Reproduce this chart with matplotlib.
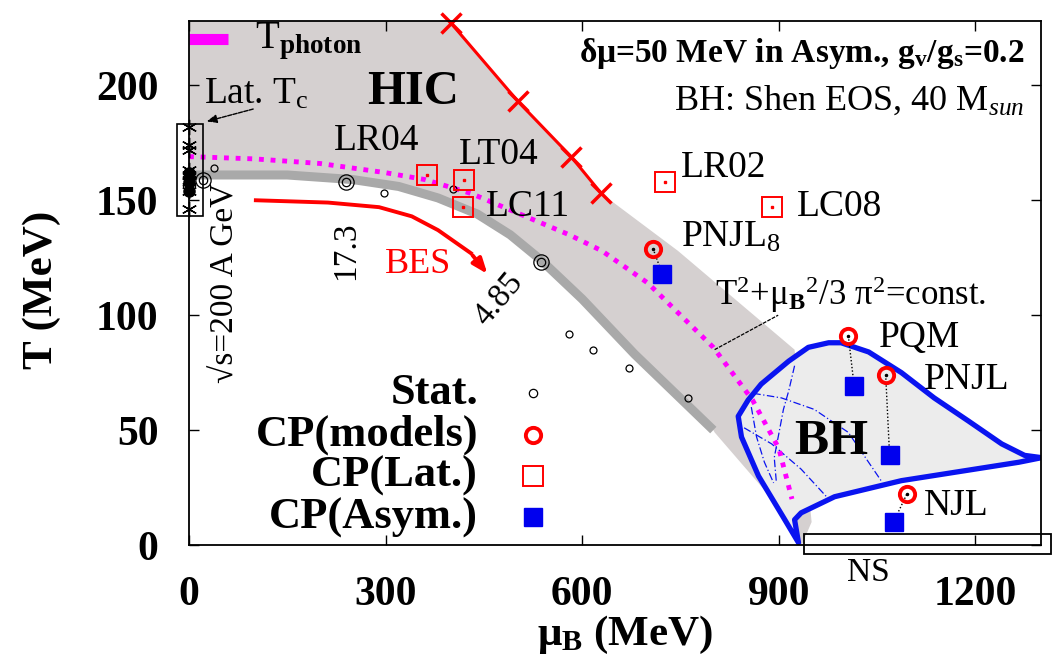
import matplotlib
matplotlib.use('Agg')
import matplotlib.pyplot as plt
from matplotlib.patches import Polygon, Rectangle

plt.rcParams['font.family'] = 'Liberation Serif'
plt.rcParams['mathtext.fontset'] = 'custom'
plt.rcParams['mathtext.rm'] = 'Liberation Serif'
plt.rcParams['mathtext.it'] = 'Liberation Serif:italic'
plt.rcParams['mathtext.bf'] = 'Liberation Serif:bold'

# ---- data (mu_B in MeV, T in MeV) ----
cross_mu = [400, 502, 583, 629]
cross_T = [227, 193, 169, 153]

# HIC region: upper / right boundary
hic_mu = [0, 400, 502, 583, 629, 746, 924, 950, 935, 914, 802]
hic_T = [228, 228, 193, 169, 153, 128, 85, 10, 0, 12, 49]

# freeze-out band (thick gray)
fo_mu = [0, 150, 250, 320, 380, 440, 490, 537, 600, 680, 800]
fo_T = [161, 161, 159, 156, 151, 144, 135, 124, 107, 83, 50]

# T^2 + mu^2/3pi^2 = const line
mg_mu = [0, 100, 200, 300, 360, 430, 480, 530, 580, 630, 700, 800, 860, 900, 920]
mg_T = [169, 168, 166, 162, 159, 153, 147, 141, 135, 128, 114, 86, 63, 42, 20]

# BES arrow
bes_mu = [102, 212, 290, 340, 380, 430]
bes_T = [150, 149, 147, 143, 137, 127]
bes_tip = (458, 117)

# statistical model points
stat_mu = [38, 298, 403, 580, 617, 672, 762]
stat_T = [164, 153, 155, 92, 85, 77, 64]
stat_big_mu = [21, 240, 537]
stat_big_T = [159, 158, 123]

# lattice Tc points
latc_T = [182, 174, 172, 163, 161, 159, 158, 154, 146]
latc_fill_T = [162, 158, 154]

# critical points
lat_names = ['LR04', 'LT04', 'LC11', 'LR02', 'LC08']
lat_mu = [363, 420, 418, 727, 889]
lat_T = [161, 159, 147, 158, 147]

mod_names = [r'PNJL$_8$', 'PQM', 'PNJL', 'NJL']
mod_mu = [708, 1006, 1063, 1095]
mod_T = [129, 91, 74, 22]
asym_mu = [722, 1015, 1069, 1075]
asym_T = [118, 69, 39, 10]

# black hole formation region
bh_mu = [930, 907, 869, 843, 838, 853, 873, 915, 945, 976, 995, 1037, 1087, 1137,
         1189, 1240, 1275, 1301, 1266, 1087, 985, 934, 924]
bh_T = [1, 12, 30, 47, 56, 63, 70, 80, 86, 88, 88, 84, 75, 64,
        54, 44, 39, 38, 36, 28, 21, 14, 11]

bh_tr1_mu = [924, 915, 907, 899, 893, 896]
bh_tr1_T = [78, 67, 59, 47, 38, 28]
bh_tr2_mu = [861, 904, 954, 1006, 1056]
bh_tr2_T = [66, 64, 59, 49, 28]
bh_tr3_mu = [847, 889, 934, 976]
bh_tr3_T = [51, 44, 33, 20]
bh_tr4_mu = [858, 866, 878, 892]
bh_tr4_T = [60, 47, 36, 27]

x_ticks = [0, 300, 600, 900, 1200]
y_ticks = [0, 50, 100, 150, 200]

# ---- figure ----
fig = plt.figure(figsize=(10.58, 6.66), dpi=100)
ax = fig.add_axes([189 / 1058, 1 - 545 / 666, 852 / 1058, 524 / 666])
ax.set_xlim(0, 1300)
ax.set_ylim(0, 228)

# HIC shaded region
poly = list(zip(hic_mu, hic_T)) + list(zip(fo_mu, fo_T))[::-1]
ax.add_patch(Polygon(poly, closed=True, facecolor='#d5d0d0', edgecolor='none', zorder=1))
ax.plot(fo_mu, fo_T, color='#a9a9a9', lw=6.5, solid_capstyle='butt', zorder=2)

# BH region
bh_poly = Polygon(list(zip(bh_mu, bh_T)), closed=True, facecolor='#ececec',
                  edgecolor='#0a14f0', lw=3.8, zorder=3, joinstyle='round')
ax.add_patch(bh_poly)
for tm, tt in [(bh_tr1_mu, bh_tr1_T), (bh_tr2_mu, bh_tr2_T),
               (bh_tr3_mu, bh_tr3_T), (bh_tr4_mu, bh_tr4_T)]:
    ax.plot(tm, tt, color='#0a14f0', lw=0.9, ls=(0, (6, 2, 1, 2)), zorder=3.5)

# magenta dotted line
ax.plot(mg_mu, mg_T, color='magenta', lw=3.5, ls=(0, (1, 1.4)), zorder=4)
ax.plot([802, 899], [85, 100], color='black', lw=0.9, ls=(0, (3, 1)), zorder=4)

# red line with crosses
ax.plot(cross_mu, cross_T, color='red', lw=2.2, marker='x', ms=15, mew=2.5,
        zorder=5, clip_on=False)

# BES arrow
ax.plot(bes_mu, bes_T, color='red', lw=2.8, zorder=5)
ax.annotate('', xy=bes_tip, xytext=(bes_mu[-1], bes_T[-1]),
            arrowprops=dict(arrowstyle='-|>,head_length=0.9,head_width=0.35',
                            color='red', lw=2.8), zorder=5)

# statistical model points
ax.plot(stat_mu, stat_T, ls='none', marker='o', ms=5, mfc='none', mec='black',
        mew=0.9, zorder=6)
ax.plot(stat_big_mu, stat_big_T, ls='none', marker='o', ms=11, mfc='none',
        mec='black', mew=0.9, zorder=6)
ax.plot(stat_big_mu, stat_big_T, ls='none', marker='o', ms=6, mfc='none',
        mec='black', mew=0.9, zorder=6)

# lattice Tc
ax.plot([0] * len(latc_T), latc_T, ls='none', marker=(6, 2, 0), ms=11,
        color='black', mew=1.0, zorder=6, clip_on=False)
ax.plot([0] * len(latc_fill_T), latc_fill_T, ls='none', marker='o', ms=8,
        color='black', zorder=6, clip_on=False)
ax.add_patch(Rectangle((-19, 143), 41, 40, fill=False, edgecolor='black',
                       lw=1.2, zorder=6, clip_on=False))
ax.annotate('', xy=(23, 184), xytext=(102, 190),
            arrowprops=dict(arrowstyle='-|>,head_length=0.6,head_width=0.25',
                            color='black', lw=1.0, ls=(0, (3, 1))), zorder=6)

# connectors between model CP and asymmetric CP
for m0, t0, m1, t1 in zip(mod_mu, mod_T, asym_mu, asym_T):
    ax.plot([m0, m1], [t0, t1], color='black', lw=1.0, ls=(0, (1, 1.5)), zorder=6)

# critical points
ax.plot(lat_mu, lat_T, ls='none', marker='s', ms=14, mfc='none', mec='red',
        mew=1.4, zorder=7)
ax.plot(lat_mu, lat_T, ls='none', marker='s', ms=1.5, color='red', zorder=7)
ax.plot(asym_mu, asym_T, ls='none', marker='s', ms=13, color='#0000ee', zorder=7)
ax.plot(mod_mu, mod_T, ls='none', marker='o', ms=11, mfc='none', mec='red',
        mew=2.8, zorder=8)
ax.plot(mod_mu, mod_T, ls='none', marker='o', ms=1.5, color='black', zorder=8)

# labels of critical points
lab_fs = 27
lat_lab_pos = [(221, 176), (412, 170), (453, 147), (751, 164), (927, 147)]
for name, (lx, ly) in zip(lat_names, lat_lab_pos):
    ax.text(lx, ly, name, fontsize=lab_fs, ha='left', va='center', zorder=9)
mod_lab_pos = [(751, 134), (1052, 90), (1122, 72), (1121, 17)]
for name, (lx, ly) in zip(mod_names, mod_lab_pos):
    ax.text(lx, ly, name, fontsize=lab_fs, ha='left', va='center', zorder=9)

# legend (hand placed like the original)
leg_T = [66, 48, 30, 12]
leg_txt = ['Stat.', 'CP(models)', 'CP(Lat.)', 'CP(Asym.)']
for txt, ly in zip(leg_txt, leg_T):
    ax.text(441, ly, txt, fontsize=32, fontweight='bold', ha='right', va='center', zorder=9)
ax.plot(525, leg_T[0], marker='o', ms=6, mfc='none', mec='black', mew=0.9)
ax.plot(525, leg_T[1], marker='o', ms=11, mfc='none', mec='red', mew=2.8)
ax.plot(525, leg_T[2], marker='s', ms=14, mfc='none', mec='red', mew=1.4)
ax.plot(525, leg_T[3], marker='s', ms=13, color='#0000ee')

# other annotations
ax.plot([0, 60], [220, 220], color='magenta', lw=8, solid_capstyle='butt', zorder=9)
ax.text(100, 219, r'T$_{\mathbf{photon}}$', fontsize=28, ha='left', va='center', zorder=9)
ax.text(23, 196, r'Lat. T$_\mathrm{c}$', fontsize=27, ha='left', va='center', zorder=9)
ax.text(342, 197, 'HIC', fontsize=35, fontweight='bold', ha='center', va='center', zorder=9)
ax.text(980, 45, 'BH', fontsize=37, fontweight='bold', ha='center', va='center', zorder=9)
ax.text(1275, 214, r'δμ=50 MeV in Asym., g$_\mathbf{v}$/g$_\mathbf{s}$=0.2',
        fontsize=24, fontweight='bold', ha='right', va='center', zorder=9)
ax.text(1275, 193, r'BH: Shen EOS, 40 M$_{sun}$', fontsize=26, ha='right',
        va='center', zorder=9)
ax.text(802, 109, r'T$^2$+μ$_\mathbf{B}$$^2$/3 π$^2$=const.', fontsize=25,
        ha='left', va='center', zorder=9)
ax.text(55, 114, '√s=200 A GeV', fontsize=24, rotation=90, ha='center', va='center', zorder=9)
ax.text(240, 128, '17.3', fontsize=24, rotation=90, ha='center', va='center', zorder=9)
ax.text(473, 107, '4.85', fontsize=24, rotation=50, ha='center', va='center', zorder=9)
ax.text(350, 122, 'BES', fontsize=26, color='red', ha='center', va='center', zorder=9)

# NS box
ax.add_patch(Rectangle((939, -4), 377, 9, fill=False, edgecolor='black', lw=1.3,
                       zorder=9, clip_on=False))
ax.text(1037, -12, 'NS', fontsize=24, ha='center', va='center')

# axes styling
ax.set_xticks(x_ticks)
ax.set_yticks(y_ticks)
ax.tick_params(direction='in', length=7, width=1, top=True, right=True, pad=22,
               labelsize=30)
for lbl in ax.get_xticklabels() + ax.get_yticklabels():
    lbl.set_fontweight('bold')
for sp in ax.spines.values():
    sp.set_linewidth(1.3)
    sp.set_zorder(10)

fig.text(42 / 1058, 1 - 290 / 666, 'T (MeV)', fontsize=31, fontweight='bold',
         rotation=90, ha='center', va='center')
fig.text(625 / 1058, 1 - 635 / 666, r'μ$_\mathbf{B}$ (MeV)', fontsize=31,
         fontweight='bold', ha='center', va='center')

fig.savefig('out.png', dpi=100)
